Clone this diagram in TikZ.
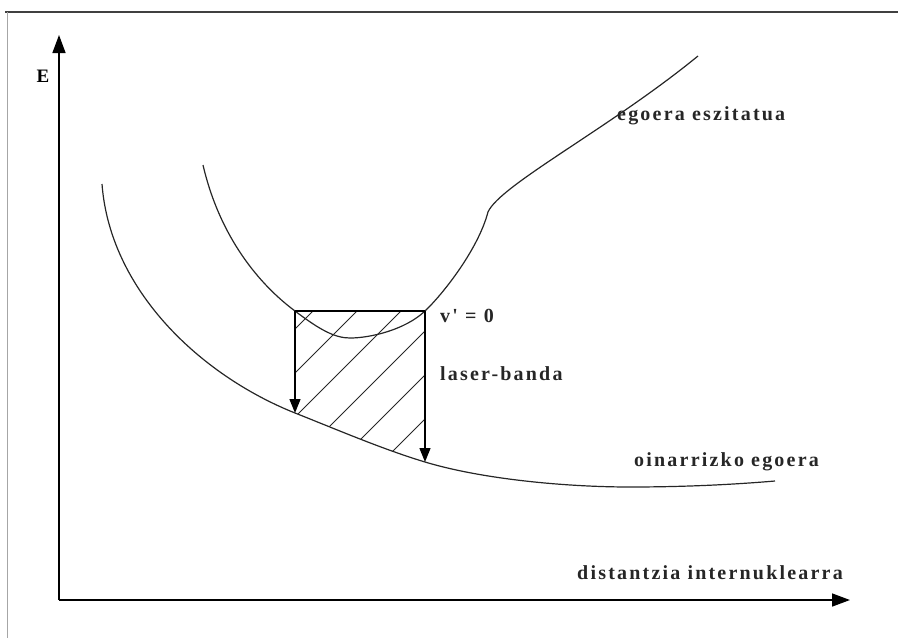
\documentclass[tikz,border=0pt]{standalone}
\usepackage{fontspec}
\usetikzlibrary{arrows.meta}
\newfontfamily\lblfont[LetterSpace=11]{Liberation Serif}
\newfontfamily\efont{Liberation Serif}
\tikzset{
  lbl/.style={font=\lblfont\bfseries\fontsize{20}{24}\selectfont, inner sep=0pt, anchor=west, text=black!85},
  curve/.style={line width=1.2pt, black!85},
  axis/.style={line width=1.5pt, -{Triangle[length=18pt,width=13pt]}},
  drop/.style={line width=1.4pt, -{Triangle[length=14pt,width=11pt]}},
  hatch/.style={line width=1pt, black!85},
  frame/.style={line width=1.5pt, black!75},
}
\begin{document}
\begin{tikzpicture}[x=1pt,y=-1pt]
\useasboundingbox (0,0) rectangle (898,638);
% frame
\draw[frame] (5,12) -- (898,12);
\draw[line width=1pt, black!35] (7,12) -- (7,638);
% axes
\coordinate (O) at (59,600);
\coordinate (Ytip) at (59,35);
\coordinate (Xtip) at (850,600);
\draw[axis] (O) -- (Ytip);
\draw[axis] (O) -- (Xtip);
\node[font=\efont\bfseries\fontsize{19}{22}\selectfont, inner sep=0pt] (E) at (43,76) {E};
% key points
\coordinate (A) at (295,311);
\coordinate (B) at (425,311);
\coordinate (G1) at (295,413);
\coordinate (G2) at (425,462);
% hatching
\begin{scope}
  \clip (A) -- (B) -- (G2) .. controls (382,449) and (338,430) .. (G1) -- cycle;
  \foreach \c in {624,668,712,756,800,844} {
    \draw[hatch] (\c-600,600) -- (\c-200,200);
  }
\end{scope}
% ground state curve
\draw[curve] (102,184) .. controls (110,290) and (200,375) .. (G1)
  .. controls (338,430) and (382,449) .. (G2)
  .. controls (485,480) and (570,487) .. (630,487)
  .. controls (690,487) and (740,484) .. (775,481);
% excited state curve
\draw[curve] (203,165) .. controls (220,238) and (260,285) .. (A)
  .. controls (320,330) and (335,338) .. (350,338)
  .. controls (370,338) and (405,330) .. (B)
  .. controls (442,295) and (478,250) .. (488,212)
  .. controls (500,185) and (610,128) .. (698,56);
% box
\draw[line width=1.4pt] (A) -- (B);
\draw[drop] (A) -- (G1);
\draw[drop] (B) -- (G2);
% labels
\node[lbl] (v0) at (440,316) {v' = 0};
\node[lbl] (lb) at (440,374) {laser-banda};
\node[lbl] (ex) at (617,116) {egoera eszitatua};
\node[lbl] (gr) at (634,462) {oinarrizko egoera};
\node[lbl] (dx) at (577,573) {distantzia internuklearra};
\end{tikzpicture}
\end{document}
